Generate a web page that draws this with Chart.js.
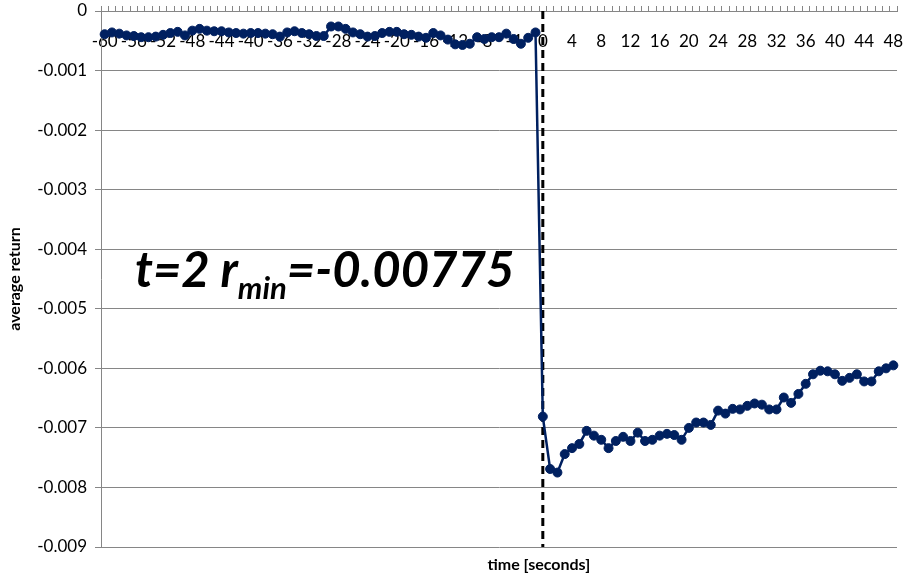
<!DOCTYPE html>
<html>
<head>
<meta charset="utf-8">
<script src="https://cdn.jsdelivr.net/npm/chart.js@4/dist/chart.umd.min.js"></script>
<style>
  html, body { margin: 0; padding: 0; background: #ffffff; overflow: hidden; }
  #wrap { width: 905px; height: 577px; }
</style>
</head>
<body>
<div id="wrap"><canvas id="c" width="905" height="577"></canvas></div>
<script>
// Seconds relative to the event (category axis)
const seconds = [
  -60, -59, -58, -57, -56, -55, -54, -53, -52, -51, -50, -49, -48, -47, -46, -45, -44, -43, -42, -41,
  -40, -39, -38, -37, -36, -35, -34, -33, -32, -31, -30, -29, -28, -27, -26, -25, -24, -23, -22, -21,
  -20, -19, -18, -17, -16, -15, -14, -13, -12, -11, -10, -9, -8, -7, -6, -5, -4, -3, -2, -1,
  0, 1, 2, 3, 4, 5, 6, 7, 8, 9, 10, 11, 12, 13, 14, 15, 16, 17, 18, 19, 20, 21, 22, 23, 24,
  25, 26, 27, 28, 29, 30, 31, 32, 33, 34, 35, 36, 37, 38, 39, 40, 41, 42, 43, 44, 45, 46, 47, 48
];

// Average return before the event (t = -60 .. -1)
const returnsBefore = [
  -0.00039, -0.00036, -0.00038, -0.00041, -0.00042, -0.00044, -0.00044, -0.00043, -0.00040, -0.00037,
  -0.00035, -0.00041, -0.00033, -0.00030, -0.00033, -0.00034, -0.00034, -0.00036, -0.00037, -0.00038,
  -0.00037, -0.00037, -0.00038, -0.00039, -0.00043, -0.00036, -0.00034, -0.00037, -0.00039, -0.00042,
  -0.00042, -0.00026, -0.00026, -0.00030, -0.00036, -0.00039, -0.00043, -0.00042, -0.00037, -0.00035,
  -0.00035, -0.00039, -0.00040, -0.00043, -0.00045, -0.00037, -0.00041, -0.00048, -0.00056, -0.00057,
  -0.00055, -0.00044, -0.00047, -0.00044, -0.00044, -0.00038, -0.00047, -0.00055, -0.00045, -0.00036
];

// Average return from the event onwards (t = 0 .. 48)
const returnsAfter = [
  -0.00681, -0.00769, -0.00775, -0.00744, -0.00734, -0.00727, -0.00705, -0.00713, -0.00720, -0.00734,
  -0.00722, -0.00715, -0.00722, -0.00708, -0.00722, -0.00720, -0.00713, -0.00710, -0.00712, -0.00720,
  -0.00700, -0.00691, -0.00691, -0.00695, -0.00671, -0.00676, -0.00668, -0.00669, -0.00663, -0.00659,
  -0.00661, -0.00669, -0.00669, -0.00649, -0.00658, -0.00643, -0.00626, -0.00610, -0.00604, -0.00605,
  -0.00610, -0.00621, -0.00616, -0.00610, -0.00622, -0.00622, -0.00605, -0.00600, -0.00595
];

const avgReturn = returnsBefore.concat(returnsAfter);

// Labelled seconds on the time axis
const xTickLabels = ['-60', '-56', '-52', '-48', '-44', '-40', '-36', '-32', '-28', '-24', '-20', '-16',
  '-12', '-8', '-4', '0', '4', '8', '12', '16', '20', '24', '28', '32', '36', '40', '44', '48'];

// Value axis ticks
const yTicks = [0, -0.001, -0.002, -0.003, -0.004, -0.005, -0.006, -0.007, -0.008, -0.009];

const eventSecond = 0;
const xAxisTitle = 'time [seconds]';

const FONT = 'Lato, "Open Sans", "DejaVu Sans", sans-serif';
const AXIS_GREY = '#868686';
const NAVY = '#002060';

// Dashed event marker, minimum-return annotation and the time-axis caption
const eventMarker = {
  id: 'eventMarker',
  beforeDatasetsDraw(chart) {
    const { ctx, chartArea, scales } = chart;
    const px = scales.x.getPixelForValue(seconds.indexOf(eventSecond));
    ctx.save();
    ctx.strokeStyle = '#000000';
    ctx.lineWidth = 3;
    ctx.setLineDash([8, 5]);
    ctx.beginPath();
    ctx.moveTo(px, chartArea.top);
    ctx.lineTo(px, chartArea.bottom);
    ctx.stroke();
    ctx.restore();
  },
  afterDatasetsDraw(chart) {
    const { ctx, chartArea } = chart;
    let minIdx = 0;
    avgReturn.forEach((v, i) => { if (v < avgReturn[minIdx]) minIdx = i; });
    const head = 't=' + seconds[minIdx] + ' r';
    const sub = 'min';
    const tail = '=' + avgReturn[minIdx].toFixed(5);
    const bigFont = 'italic bold 49px ' + FONT;
    const subFont = 'italic bold 31px ' + FONT;
    let x = chartArea.left + 34;
    const baseline = chartArea.top + 276;
    ctx.save();
    ctx.fillStyle = '#000000';
    ctx.textBaseline = 'alphabetic';
    ctx.textAlign = 'left';
    ctx.font = bigFont;
    ctx.fillText(head, x, baseline);
    x += ctx.measureText(head).width;
    ctx.font = subFont;
    ctx.fillText(sub, x, baseline + 12);
    x += ctx.measureText(sub).width;
    ctx.font = bigFont;
    ctx.fillText(tail, x, baseline);
    ctx.restore();
  },
  afterDraw(chart) {
    const { ctx, chartArea } = chart;
    ctx.save();
    ctx.fillStyle = '#000000';
    ctx.font = 'bold 16px ' + FONT;
    ctx.textAlign = 'center';
    ctx.textBaseline = 'middle';
    ctx.fillText(xAxisTitle, chartArea.left + (chartArea.right - chartArea.left) * 0.55, chartArea.bottom + 18);
    ctx.restore();
  }
};

new Chart(document.getElementById('c'), {
  type: 'line',
  data: {
    labels: seconds.map(String),
    datasets: [{
      label: 'average return',
      data: avgReturn,
      borderColor: NAVY,
      backgroundColor: NAVY,
      borderWidth: 2.5,
      pointRadius: 4.5,
      pointBorderWidth: 1,
      pointBackgroundColor: NAVY,
      pointBorderColor: NAVY,
      tension: 0,
      fill: false
    }]
  },
  options: {
    responsive: false,
    animation: false,
    layout: { padding: { left: 0, right: 8, top: 0, bottom: 30 } },
    plugins: {
      legend: { display: false },
      tooltip: { enabled: false },
      title: { display: false }
    },
    scales: {
      x: {
        type: 'category',
        position: 'top',
        offset: true,
        grid: {
          offset: true,
          drawOnChartArea: false,
          drawTicks: true,
          tickLength: 5,
          color: AXIS_GREY,
          lineWidth: 1
        },
        border: { display: true, color: AXIS_GREY, width: 1 },
        ticks: {
          mirror: true,
          autoSkip: false,
          maxRotation: 0,
          minRotation: 0,
          padding: 20,
          color: '#000000',
          font: { family: FONT, size: 17 },
          callback(value) {
            const lab = this.getLabelForValue(value);
            return xTickLabels.includes(lab) ? lab : '';
          }
        },
        afterFit(scale) {
          scale.height = 11;
          scale.paddingLeft = 0;
          scale.paddingRight = 0;
        }
      },
      y: {
        type: 'linear',
        position: 'left',
        min: -0.009,
        max: 0,
        afterBuildTicks(scale) { scale.ticks = yTicks.map(v => ({ value: v })); },
        grid: {
          color: AXIS_GREY,
          lineWidth: 1,
          drawTicks: true,
          tickLength: 6
        },
        border: { display: true, color: AXIS_GREY, width: 1 },
        ticks: {
          padding: 8,
          color: '#000000',
          font: { family: FONT, size: 17 },
          callback: v => (v === 0 ? '0' : v.toFixed(3))
        },
        title: {
          display: true,
          text: 'average return',
          color: '#000000',
          font: { family: FONT, size: 16, weight: 'bold' },
          padding: { top: 5, bottom: 0 }
        },
        afterFit(scale) {
          scale.width = 101;
          scale.paddingTop = 0;
          scale.paddingBottom = 0;
        }
      }
    }
  },
  plugins: [eventMarker]
});
</script>
</body>
</html>
